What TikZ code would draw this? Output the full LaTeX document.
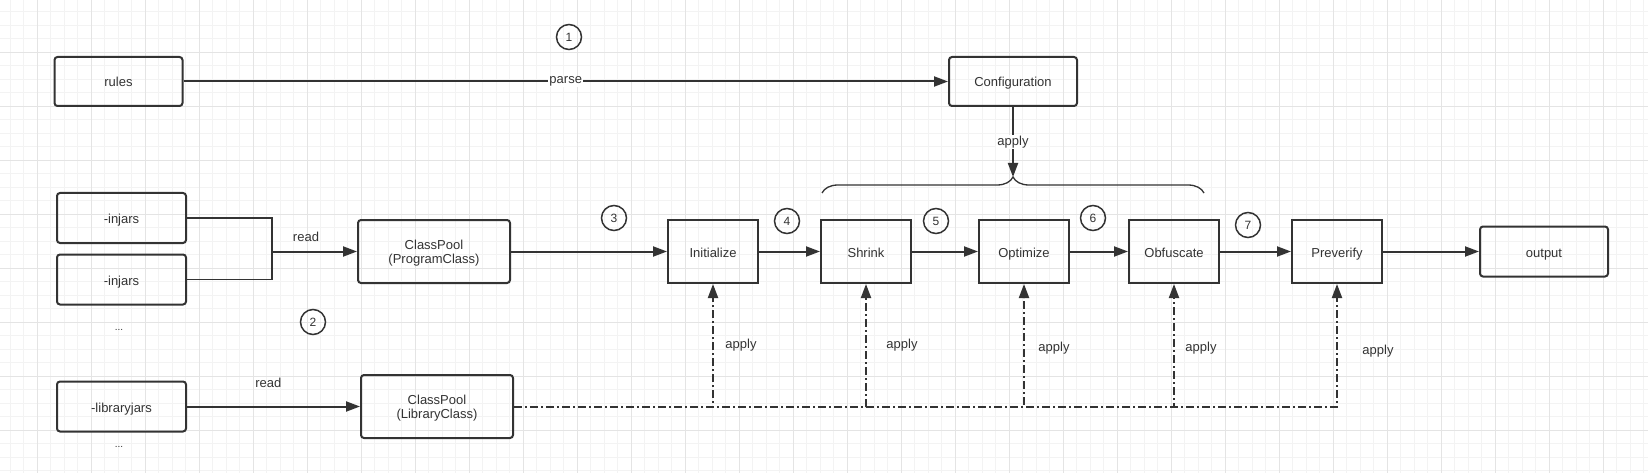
\documentclass[tikz,border=0pt]{standalone}
\usepackage{fontspec}
\setmainfont{Liberation Sans}
\usetikzlibrary{arrows.meta, decorations.pathreplacing}
\definecolor{ink}{HTML}{333333}
\definecolor{gridminor}{HTML}{F3F3F3}
\definecolor{gridmajor}{HTML}{E4E4E4}

\tikzset{
	frame/.style={draw=ink, line width=2pt, rounded corners=3pt, inner sep=0pt, text=ink, font=\fontsize{13}{14}\selectfont, align=center},
	box/.style={frame, minimum width=128pt, minimum height=49pt, text height=12pt, text depth=1pt},
	pool/.style={frame, minimum width=152pt, minimum height=63pt, text depth=0pt},
	stage/.style={box, rounded corners=0pt, minimum width=90pt, minimum height=63pt},
	flow/.style={draw=ink, line width=2pt, -{Triangle[length=14pt,width=10pt]}},
	libapply/.style={flow, line width=2pt, dash pattern=on 8pt off 3pt on 2pt off 3pt},
	num/.style={circle, draw=ink, line width=1.5pt, minimum size=25pt, inner sep=0pt, text=ink, font=\fontsize{12}{12}\selectfont},
	lbl/.style={text=ink, font=\fontsize{13}{14}\selectfont, inner sep=1pt},
}

\begin{document}
\begin{tikzpicture}[x=1pt, y=-1pt]
	\useasboundingbox (0,0) rectangle (1648,473);
	\fill[white] (0,0) rectangle (1648,473);
	\foreach \x in {10.3,23.8,...,1648} \draw[gridminor, line width=1pt] (\x,0) -- (\x,473);
	\foreach \y in {11.8,25.3,...,473} \draw[gridminor, line width=1pt] (0,\y) -- (1648,\y);
	\foreach \x in {37.3,91.3,...,1648} \draw[gridmajor, line width=1pt] (\x,0) -- (\x,473);
	\foreach \y in {52.3,106.3,...,473} \draw[gridmajor, line width=1pt] (0,\y) -- (1648,\y);

	\node[box] (rules) at (118.5,81.5) {rules};
	\node[box] (config) at (1013,81.5) {Configuration};

	\node[box, minimum width=129pt, minimum height=50pt] (injarsA) at (121.5,218) {-injars};
	\node[box, minimum width=129pt, minimum height=50pt] (injarsB) at (121.5,279.5) {-injars};
	\node[lbl, font=\fontsize{10}{12}\selectfont] (moreinjars) at (119,330) {...};
	\node[box, minimum width=129pt, minimum height=50pt] (libjars) at (121.5,406.5) {-libraryjars};
	\node[lbl, font=\fontsize{10}{12}\selectfont] (morelibjars) at (119,447) {...};

	\node[pool] (poolP) at (434,251.5) {ClassPool\\(ProgramClass)};
	\node[pool] (poolL) at (437,406.5) {ClassPool\\(LibraryClass)};

	\node[stage] (init) at (713,251.5) {Initialize};
	\node[stage] (shrink) at (866,251.5) {Shrink};
	\node[stage] (optimize) at (1024,251.5) {Optimize};
	\node[stage] (obfuscate) at (1174,251.5) {Obfuscate};
	\node[stage] (preverify) at (1337,251.5) {Preverify};
	\node[box, minimum height=50pt] (output) at (1544,251.5) {output};

	\node[num] (n1) at (569,37) {1};
	\node[num] (n2) at (313,322) {2};
	\node[num] (n3) at (614,218) {3};
	\node[num] (n4) at (787,221) {4};
	\node[num] (n5) at (936,221) {5};
	\node[num] (n6) at (1093,218) {6};
	\node[num] (n7) at (1248,225) {7};

	\draw[flow] (rules) -- node[lbl, fill=white] (parse) {parse} (config);

	% stages driven by the configuration
	\coordinate (bracetip) at (1013,177);
	\draw[ink, line width=1.3pt, decorate, decoration={brace, amplitude=16pt}] (822,193) -- (1204,193);
	\draw[flow] (config) -- node[lbl, fill=white] (cfgapply) {apply} (bracetip);

	\coordinate (join) at (272,251.5);
	\draw[ink, line width=1.2pt] (injarsA.east) -| (join) |- (injarsB.east);
	\draw[flow] (join) -- node[lbl, above=8pt, pos=0.4] (readP) {read} (poolP);
	\draw[flow] (libjars) -- node[lbl, above=17pt, pos=0.47] (readL) {read} (poolL);

	\foreach \a/\b in {poolP/init, init/shrink, shrink/optimize, optimize/obfuscate, obfuscate/preverify, preverify/output}
		\draw[flow] (\a) -- (\b);

	% library classes applied to every stage
	\foreach \s in {init, shrink, optimize, obfuscate, preverify}
		\draw[libapply] (poolL.east) -| (\s.south);
	\foreach \x/\y [count=\i] in {741/345, 902/345, 1054/348, 1201/348, 1378/351}
		\node[lbl] (apply\i) at (\x,\y) {apply};
\end{tikzpicture}
\end{document}
